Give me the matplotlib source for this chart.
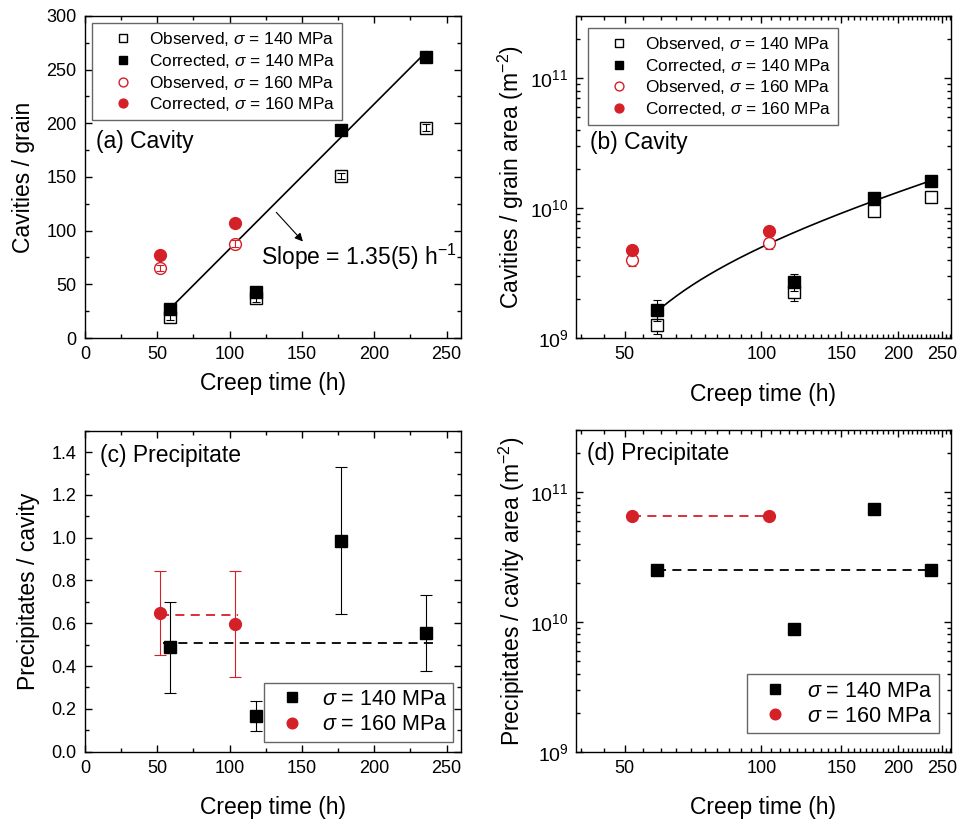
import numpy as np
import matplotlib
matplotlib.use("Agg")
import matplotlib.pyplot as plt
from matplotlib.ticker import MultipleLocator, FixedLocator, FixedFormatter, NullFormatter, LogLocator

plt.rcParams['font.family'] = ['Liberation Sans', 'DejaVu Sans']
plt.rcParams['mathtext.fontset'] = 'custom'
plt.rcParams['mathtext.rm'] = 'Liberation Sans'
plt.rcParams['mathtext.it'] = 'Liberation Sans:italic'
plt.rcParams['axes.linewidth'] = 1.0

RED = '#d42027'

# creep times (h)
time_140 = [59, 118, 177, 236]
time_160 = [52, 104]

# (a) cavities per grain
a_obs_140 = [20, 37, 151, 196]
a_obs_140_err = [3, 3, 3, 3]
a_cor_140 = [27, 43, 194, 262]
a_obs_160 = [65, 88]
a_obs_160_err = [3, 3]
a_cor_160 = [77, 107]
a_slope = 1.35
a_intercept = -52.0

# (b) cavities per grain area (m^-2)
b_obs_140 = [1.27e9, 2.24e9, 9.4e9, 1.22e10]
b_obs_140_err = [0.2e9, 0.33e9, 0.3e9, 0.3e9]
b_cor_140 = [1.65e9, 2.68e9, 1.19e10, 1.62e10]
b_cor_140_err = [0.3e9, 0.4e9, 0.3e9, 0.3e9]
b_obs_160 = [4.0e9, 5.38e9]
b_obs_160_err = [0.45e9, 0.5e9]
b_cor_160 = [4.78e9, 6.6e9]
b_cor_160_err = [0.35e9, 0.5e9]
b_rate = 8.25e7
b_t0 = 39.5

# (c) precipitates per cavity
c_140 = [0.49, 0.165, 0.985, 0.555]
c_140_lo = [0.275, 0.095, 0.645, 0.375]
c_140_hi = [0.70, 0.235, 1.33, 0.73]
c_160 = [0.648, 0.596]
c_160_lo = [0.45, 0.35]
c_160_hi = [0.843, 0.843]
c_mean_140 = 0.51
c_mean_140_span = [54, 243]
c_mean_160 = 0.637
c_mean_160_span = [52, 106]

# (d) precipitates per cavity area (m^-2)
d_140 = [2.49e10, 8.8e9, 7.43e10, 2.49e10]
d_160 = [6.5e10, 6.5e10]
d_mean_140 = 2.5e10
d_mean_140_span = [59, 236]
d_mean_160 = 6.5e10
d_mean_160_span = [52, 104]

lbl_obs_140 = r'Observed, $\sigma$ = 140 MPa'
lbl_cor_140 = r'Corrected, $\sigma$ = 140 MPa'
lbl_obs_160 = r'Observed, $\sigma$ = 160 MPa'
lbl_cor_160 = r'Corrected, $\sigma$ = 160 MPa'
lbl_140 = r'$\sigma$ = 140 MPa'
lbl_160 = r'$\sigma$ = 160 MPa'

fig = plt.figure(figsize=(9.58, 8.19), dpi=100)
ax_a = fig.add_axes([0.0887, 0.5873, 0.3925, 0.3932])
ax_b = fig.add_axes([0.6009, 0.5873, 0.3914, 0.3932])
ax_c = fig.add_axes([0.0887, 0.0822, 0.3925, 0.3919])
ax_d = fig.add_axes([0.6009, 0.0822, 0.3914, 0.3927])

MS = 8.5
LAB = 16.5
TICK = 13


def style(ax):
    ax.tick_params(which='both', direction='in', top=True, right=True, labelsize=TICK, width=1.0)
    ax.tick_params(which='major', length=5, pad=6)
    ax.tick_params(which='minor', length=3)


def log_x(ax):
    ax.set_xscale('log')
    ax.set_xlim(39, 261)
    ax.xaxis.set_major_locator(FixedLocator([50, 100, 150, 200, 250]))
    ax.xaxis.set_major_formatter(FixedFormatter(['50', '100', '150', '200', '250']))
    ax.xaxis.set_minor_locator(FixedLocator(np.arange(40, 261, 5)))
    ax.xaxis.set_minor_formatter(NullFormatter())


def log_y(ax):
    ax.set_yscale('log')
    ax.set_ylim(1e9, 3e11)
    ax.yaxis.set_major_locator(LogLocator(base=10))
    ax.yaxis.set_minor_locator(LogLocator(base=10, subs=np.arange(2, 10)))
    ax.yaxis.set_minor_formatter(NullFormatter())
    ax.tick_params(axis='y', labelsize=14, pad=5)


def frame(leg, lw=1.0):
    f = leg.get_frame()
    f.set_edgecolor('#666666')
    f.set_linewidth(lw)
    f.set_alpha(1)


def err(ax, x, y, e, color, z):
    ax.errorbar(x, y, yerr=e, fmt='none', ecolor=color, elinewidth=0.8, capsize=3,
                capthick=0.8, zorder=z)


def cavity_points(ax, o140, c140, o160, c160):
    ax.plot(time_140, o140, 's', ms=MS, mfc='white', mec='k', mew=1.0, label=lbl_obs_140, zorder=3)
    ax.plot(time_140, c140, 's', ms=MS, color='k', label=lbl_cor_140, zorder=5)
    ax.plot(time_160, o160, 'o', ms=MS, mfc='white', mec=RED, mew=1.0, label=lbl_obs_160, zorder=3)
    ax.plot(time_160, c160, 'o', ms=MS, color=RED, label=lbl_cor_160, zorder=5)


def cavity_legend(ax, pad):
    leg = ax.legend(loc='upper left', fontsize=12.4, markerscale=0.75, handlelength=2.8,
                    handletextpad=0.1, labelspacing=0.22, borderaxespad=pad, fancybox=False,
                    borderpad=0.4)
    frame(leg)


# ---- (a)
ax = ax_a
cavity_points(ax, a_obs_140, a_cor_140, a_obs_160, a_cor_160)
err(ax, time_140, a_obs_140, a_obs_140_err, 'k', 4)
err(ax, time_160, a_obs_160, a_obs_160_err, RED, 4)
fit_t = np.array([time_140[0], time_140[-1]])
ax.plot(fit_t, a_slope * fit_t + a_intercept, '-', color='k', lw=1.2, zorder=2)
ax.annotate('', xy=(152, 88), xytext=(131, 119),
            arrowprops=dict(arrowstyle='-|>', color='k', lw=0.8, mutation_scale=12))
ax.text(122, 76, r'Slope = 1.35(5) h$^{\mathregular{-1}}$', fontsize=LAB, va='center', ha='left')
ax.text(0.028, 0.61, '(a) Cavity', transform=ax.transAxes, fontsize=LAB, va='center')
ax.set_xlim(0, 260)
ax.set_ylim(0, 300)
ax.xaxis.set_major_locator(MultipleLocator(50))
ax.xaxis.set_minor_locator(MultipleLocator(25))
ax.yaxis.set_major_locator(MultipleLocator(50))
ax.yaxis.set_minor_locator(MultipleLocator(25))
style(ax)
ax.set_xlabel('Creep time (h)', fontsize=LAB, labelpad=6)
ax.set_ylabel('Cavities / grain', fontsize=LAB, labelpad=8)
cavity_legend(ax, 0.42)

# ---- (b)
ax = ax_b
cavity_points(ax, b_obs_140, b_cor_140, b_obs_160, b_cor_160)
err(ax, time_140, b_obs_140, b_obs_140_err, 'k', 2)
err(ax, time_140, b_cor_140, b_cor_140_err, 'k', 4)
err(ax, time_160, b_obs_160, b_obs_160_err, RED, 2)
err(ax, time_160, b_cor_160, b_cor_160_err, RED, 4)
fit_t = np.linspace(time_140[0], time_140[-1], 200)
ax.plot(fit_t, b_rate * (fit_t - b_t0), '-', color='k', lw=1.2, zorder=2)
ax.text(0.038, 0.607, '(b) Cavity', transform=ax.transAxes, fontsize=LAB, va='center')
log_x(ax)
style(ax)
log_y(ax)
ax.set_xlabel('Creep time (h)', fontsize=LAB, labelpad=14)
ax.set_ylabel(r'Cavities / grain area (m$^{\mathregular{-2}}$)', fontsize=LAB, labelpad=3)
cavity_legend(ax, 0.7)

# ---- (c)
ax = ax_c
c140 = np.array(c_140)
c160 = np.array(c_160)
ax.errorbar(time_140, c140, yerr=[c140 - np.array(c_140_lo), np.array(c_140_hi) - c140],
            fmt='none', ecolor='k', elinewidth=0.8, capsize=4.3, capthick=0.8, zorder=2)
ax.errorbar(time_160, c160, yerr=[c160 - np.array(c_160_lo), np.array(c_160_hi) - c160],
            fmt='none', ecolor=RED, elinewidth=0.8, capsize=4.3, capthick=0.8, zorder=2)
ax.plot(time_140, c140, 's', ms=MS, color='k', label=lbl_140, zorder=4)
ax.plot(time_160, c160, 'o', ms=MS, color=RED, label=lbl_160, zorder=4)
ax.plot(c_mean_140_span, [c_mean_140] * 2, '--', color='k', lw=1.3, dashes=(5, 3.5), zorder=3)
ax.plot(c_mean_160_span, [c_mean_160] * 2, '--', color=RED, lw=1.3, dashes=(5, 3.5), zorder=3)
ax.text(0.04, 0.924, '(c) Precipitate', transform=ax.transAxes, fontsize=LAB, va='center')
ax.set_xlim(0, 260)
ax.set_ylim(0, 1.5)
ax.xaxis.set_major_locator(MultipleLocator(50))
ax.xaxis.set_minor_locator(MultipleLocator(25))
ax.yaxis.set_major_locator(MultipleLocator(0.2))
ax.yaxis.set_minor_locator(MultipleLocator(0.1))
style(ax)
ax.set_xlabel('Creep time (h)', fontsize=LAB, labelpad=14)
ax.set_ylabel('Precipitates / cavity', fontsize=LAB, labelpad=8)
leg = ax.legend(loc='lower right', bbox_to_anchor=(0.98, 0.031), fontsize=15.5, markerscale=0.9,
                handlelength=2.0, handletextpad=0.35, labelspacing=0.2, borderaxespad=0,
                fancybox=False, borderpad=0.3)
frame(leg)

# ---- (d)
ax = ax_d
ax.plot(time_140, d_140, 's', ms=MS, color='k', label=lbl_140, zorder=4)
ax.plot(time_160, d_160, 'o', ms=MS, color=RED, label=lbl_160, zorder=4)
ax.plot(d_mean_140_span, [d_mean_140] * 2, '--', color='k', lw=1.3, dashes=(5, 3.5), zorder=3)
ax.plot(d_mean_160_span, [d_mean_160] * 2, '--', color=RED, lw=1.3, dashes=(5, 3.5), zorder=3)
ax.text(0.031, 0.927, '(d) Precipitate', transform=ax.transAxes, fontsize=LAB, va='center')
log_x(ax)
style(ax)
log_y(ax)
ax.set_xlabel('Creep time (h)', fontsize=LAB, labelpad=14)
ax.set_ylabel(r'Precipitates / cavity area (m$^{\mathregular{-2}}$)', fontsize=LAB, labelpad=2)
leg = ax.legend(loc='lower right', bbox_to_anchor=(0.970, 0.057), fontsize=15.5, markerscale=0.9,
                handlelength=2.0, handletextpad=0.5, labelspacing=0.2, borderaxespad=0,
                fancybox=False, borderpad=0.3)
frame(leg)

fig.savefig('out.png', dpi=100)
